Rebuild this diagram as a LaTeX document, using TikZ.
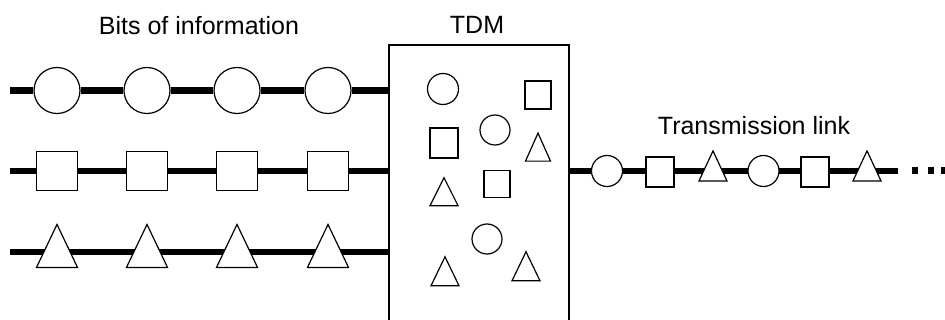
\documentclass[tikz,border=0pt]{standalone}
\usepackage{fontspec}
\setmainfont{Liberation Sans}
\usetikzlibrary{shapes.geometric,backgrounds}
\begin{document}
\begin{tikzpicture}[x=1pt,y=-1pt,
  wire/.style={line width=6.5pt},
  bit/.style={draw, fill=white, line width=1.2pt, inner sep=0pt},
  round bit/.style={bit, circle, minimum size=#1},
  box bit/.style 2 args={bit, rectangle, minimum width=#1, minimum height=#2},
  tri bit/.style 2 args={bit, isosceles triangle, shape border rotate=90,
    isosceles triangle stretches, minimum width=#1, minimum height=#2},
  caption/.style={font=\fontsize{25}{30}\selectfont, anchor=base, inner sep=0pt},
  mux/.style={draw, line width=1.6pt, minimum width=180pt, minimum height=285pt, inner sep=0pt},
  dot/.style={fill=black, inner sep=0pt, minimum width=6pt, minimum height=7pt}
]
\useasboundingbox (0,0) rectangle (945,320);
\clip (0,0) rectangle (945,320);

% captions
\node[caption] (bits) at (199,35) {Bits of information};
\node[caption] (tdmlabel) at (477,34) {TDM};
\node[caption] (link) at (754,135) {Transmission link};

% multiplexer box (runs off the bottom edge)
\node[mux] (tdm) at (479,187.5) {};

% input streams
\coordinate (a0) at (10,90.5);
\coordinate (b0) at (10,171);
\coordinate (c0) at (10,252);
\foreach \i/\x in {1/57,2/147,3/237,4/328}{
  \node[round bit=46pt] (a\i) at (\x,90.5) {};
  \node[box bit={41pt}{39pt}] (b\i) at (\x,171) {};
  \node[tri bit={41pt}{43pt}] (c\i) at (\x,254.5) {};
}

% bits mixed inside the multiplexer
\node[round bit=31pt] (m1) at (443,89) {};
\node[box bit={26pt}{28pt}] (m2) at (538,95) {};
\node[round bit=30pt] (m3) at (495,130) {};
\node[box bit={28pt}{30pt}] (m4) at (444,143) {};
\node[tri bit={25pt}{28pt}] (m5) at (538,153) {};
\node[box bit={26pt}{27pt}] (m6) at (497,184) {};
\node[tri bit={28pt}{28pt}] (m7) at (444,197) {};
\node[round bit=30pt] (m8) at (487,239) {};
\node[tri bit={28pt}{29pt}] (m9) at (445,277) {};
\node[tri bit={28pt}{29pt}] (m10) at (526,272) {};

% output stream
\node[round bit=31pt] (o1) at (607,171) {};
\node[box bit={28pt}{30pt}] (o2) at (660,172) {};
\node[tri bit={28pt}{30pt}] (o3) at (713,172) {};
\node[round bit=31pt] (o4) at (763.5,171) {};
\node[box bit={28pt}{30pt}] (o5) at (815,172) {};
\node[tri bit={28pt}{30pt}] (o6) at (867,172) {};
\coordinate (oend) at (898,171);
\node[dot] (d1) at (914.5,171) {};
\node[dot] (d2) at (931,171) {};
\node[dot] (d3) at (943.5,171) {};

% wires behind the bits
\begin{scope}[on background layer]
  \draw[wire] (a0) -- (a1) -- (a2) -- (a3) -- (a4) -- (tdm.west |- a0);
  \draw[wire] (b0) -- (b1) -- (b2) -- (b3) -- (b4) -- (tdm.west |- b0);
  \draw[wire] (c0) -- (c1 |- c0) -- (c2 |- c0) -- (c3 |- c0) -- (c4 |- c0) -- (tdm.west |- c0);
  \draw[wire] (tdm.east |- oend) -- (o1 |- oend) -- (o2 |- oend) -- (o3 |- oend)
     -- (o4 |- oend) -- (o5 |- oend) -- (o6 |- oend) -- (oend);
\end{scope}
\end{tikzpicture}
\end{document}
